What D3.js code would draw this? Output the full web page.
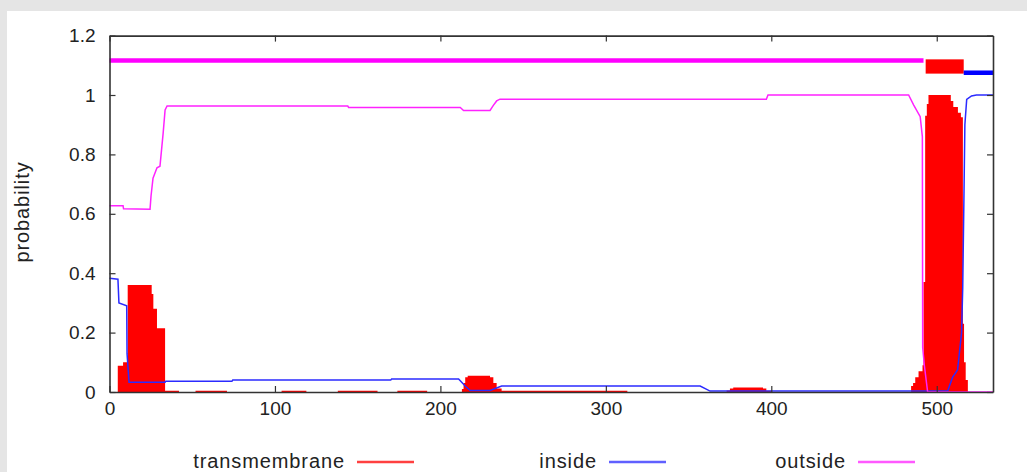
<!DOCTYPE html>
<html>
<head>
<meta charset="utf-8">
<script src="https://cdn.jsdelivr.net/npm/d3@7"></script>
<style>
  html, body { margin: 0; padding: 0; background: #e5e5e5; }
  #chart { position: absolute; left: 0; top: 0; }
  text { font-family: "Liberation Sans", Arial, sans-serif; fill: #222; }
</style>
</head>
<body>
<div id="chart"></div>
<script>
// TMHMM posterior probabilities

///////////////
//   data    //
///////////////

const seqLength = 534;

// [position, probability]
const insideProb = [
  [0, 0.383], [5.1, 0.38], [5.7, 0.30], [10.4, 0.29], [10.6, 0.13], [11.8, 0.033],
  [33.6, 0.033], [34, 0.036], [74, 0.036], [74.5, 0.04], [170, 0.04], [170.5, 0.044],
  [211, 0.044], [215, 0.02], [218, 0.005], [230, 0.005], [237, 0.02], [357, 0.02],
  [363, 0.003], [506.6, 0.003], [509.6, 0.05], [511.5, 0.065], [512.6, 0.075],
  [515, 0.2], [515.7, 0.35], [516.3, 0.6], [517, 0.9], [518.1, 0.985], [521, 0.997],
  [524, 1.0], [534, 1.0]
];

const outsideProb = [
  [0, 0.627], [8.2, 0.627], [8.5, 0.617], [24.5, 0.615], [25.1, 0.66], [26.3, 0.72],
  [28.7, 0.755], [30.5, 0.76], [32.4, 0.87], [33.6, 0.95], [34.8, 0.963], [144, 0.963],
  [144.5, 0.958], [212, 0.958], [214, 0.948], [230, 0.948], [232, 0.965], [234, 0.98],
  [236, 0.986], [397, 0.986], [398, 1.0], [483, 1.0], [486, 0.967], [490, 0.927],
  [491.3, 0.86], [491.5, 0.15], [492.5, 0.09], [494.5, 0.0], [534, 0.0]
];

// value holds until the next position (impulse style)
const tmProb = [
  [0, 0], [5, 0.088], [8.2, 0.1], [11, 0.36], [25.5, 0.33], [26.5, 0.28], [28.7, 0.215],
  [33.6, 0.004], [42, 0], [52, 0.004], [71, 0], [104, 0.004], [119, 0], [138, 0.004],
  [162, 0], [174, 0.004], [192, 0], [213, 0.01], [214, 0.03], [215, 0.05], [216.5, 0.055],
  [230, 0.05], [232, 0.03], [234, 0.012], [237, 0.004], [313, 0], [373, 0.005],
  [375, 0.012], [377, 0.015], [395, 0.012], [397, 0.004], [400, 0], [484.5, 0.02],
  [485.7, 0.03], [487, 0.05], [489, 0.07], [491.4, 0.09], [492, 0.37], [493, 0.93],
  [494, 0.97], [495, 1.0], [507, 1.0], [508.5, 0.98], [510, 0.96], [512.8, 0.94],
  [514.6, 0.925], [515.8, 0.23], [516.5, 0.1], [517.5, 0.04], [518.8, 0], [534, 0]
];

// predicted topology bar on top: [state, start, end]
const topology = [
  ["outside", 0, 492],
  ["TMhelix", 493.3, 516.3],
  ["inside", 516.3, 534]
];

const yTicks = [0, 0.2, 0.4, 0.6, 0.8, 1, 1.2];
const xTicks = [0, 100, 200, 300, 400, 500];
const legendLabels = ["transmembrane", "inside", "outside"];

///////////////
// constants //
///////////////

const chartWidth = 1027;
const chartHeight = 472;

const plotLeft = 109.5;
const plotRight = 993;
const plotTop = 35.6;
const plotBottom = 392;

const colors = { transmembrane: "#ff0000", inside: "#2b2bff", outside: "#ff22ff",
                 TMhelix: "#ff0000" };

var xScale = d3.scaleLinear().domain([0, seqLength]).range([plotLeft, plotRight]);
var yScale = d3.scaleLinear().domain([0, 1.2]).range([plotBottom, plotTop]);

var svg = d3.select("#chart").append("svg")
  .attr("width", chartWidth).attr("height", chartHeight);

// white panel
svg.append("rect")
  .attr("x", 7).attr("y", 11)
  .attr("width", chartWidth - 7).attr("height", chartHeight - 11)
  .attr("fill", "#ffffff");

////////////////
// draw image //
////////////////

// transmembrane impulses
var tmArea = d3.area()
  .x(d => xScale(d[0]))
  .y0(yScale(0))
  .y1(d => yScale(d[1]))
  .curve(d3.curveStepAfter);

svg.append("path")
  .attr("d", tmArea(tmProb))
  .attr("fill", colors.transmembrane);

var probLine = d3.line()
  .x(d => xScale(d[0]))
  .y(d => yScale(d[1]));

svg.append("path")
  .attr("d", probLine(insideProb))
  .attr("fill", "none")
  .attr("stroke", colors.inside)
  .attr("stroke-width", 1.5);

svg.append("path")
  .attr("d", probLine(outsideProb))
  .attr("fill", "none")
  .attr("stroke", colors.outside)
  .attr("stroke-width", 1.5);

// topology bar
topology.forEach(function(seg) {
  if (seg[0] === "TMhelix") {
    svg.append("rect")
      .attr("x", xScale(seg[1]))
      .attr("y", yScale(1.12))
      .attr("width", xScale(seg[2]) - xScale(seg[1]))
      .attr("height", yScale(1.072) - yScale(1.12))
      .attr("fill", colors.TMhelix);
  } else {
    var yy = seg[0] === "outside" ? yScale(1.116) : yScale(1.075);
    svg.append("line")
      .attr("x1", xScale(seg[1])).attr("x2", xScale(seg[2]))
      .attr("y1", yy).attr("y2", yy)
      .attr("stroke", seg[0] === "outside" ? "#ff00ff" : "#0000ff")
      .attr("stroke-width", 4.5);
  }
});

// axes (inward ticks)
var fmt = v => String(+v.toFixed(1));

var gLeft = svg.append("g").attr("transform", "translate(" + plotLeft + ",0)")
  .call(d3.axisLeft(yScale).tickValues(yTicks).tickFormat(fmt)
        .tickSizeInner(-6).tickSizeOuter(0).tickPadding(14));
var gRight = svg.append("g").attr("transform", "translate(" + plotRight + ",0)")
  .call(d3.axisRight(yScale).tickValues(yTicks).tickFormat("")
        .tickSizeInner(-6).tickSizeOuter(0));
var gBottom = svg.append("g").attr("transform", "translate(0," + plotBottom + ")")
  .call(d3.axisBottom(xScale).tickValues(xTicks).tickFormat(d3.format("d"))
        .tickSizeInner(-6).tickSizeOuter(0).tickPadding(10));
var gTop = svg.append("g").attr("transform", "translate(0," + plotTop + ")")
  .call(d3.axisTop(xScale).tickValues(xTicks).tickFormat("")
        .tickSizeInner(-6).tickSizeOuter(0));

[gLeft, gRight, gBottom, gTop].forEach(function(g) {
  g.select(".domain").attr("stroke", "#333").attr("stroke-width", 1.6);
  g.selectAll(".tick line").attr("stroke", "#333").attr("stroke-width", 1.2);
  g.selectAll(".tick text")
    .style("font-family", "'Liberation Sans', Arial, sans-serif")
    .style("font-size", "19px")
    .attr("fill", "#222");
});

// y label
svg.append("text")
  .attr("transform", "translate(29,212) rotate(-90)")
  .attr("text-anchor", "middle")
  .style("font-size", "20px")
  .style("letter-spacing", "0.9px")
  .text("probability");

// legend
var legendTextEnd = [345, 597, 846];
legendLabels.forEach(function(lbl, i) {
  svg.append("text")
    .attr("x", legendTextEnd[i])
    .attr("y", 468)
    .attr("text-anchor", "end")
    .style("font-size", "20px")
    .style("letter-spacing", "0.9px")
    .text(lbl);
  svg.append("line")
    .attr("x1", legendTextEnd[i] + 12).attr("x2", legendTextEnd[i] + 69)
    .attr("y1", 462).attr("y2", 462)
    .attr("stroke", colors[lbl])
    .attr("stroke-opacity", 0.75)
    .attr("stroke-width", 2.5);
});
</script>
</body>
</html>
